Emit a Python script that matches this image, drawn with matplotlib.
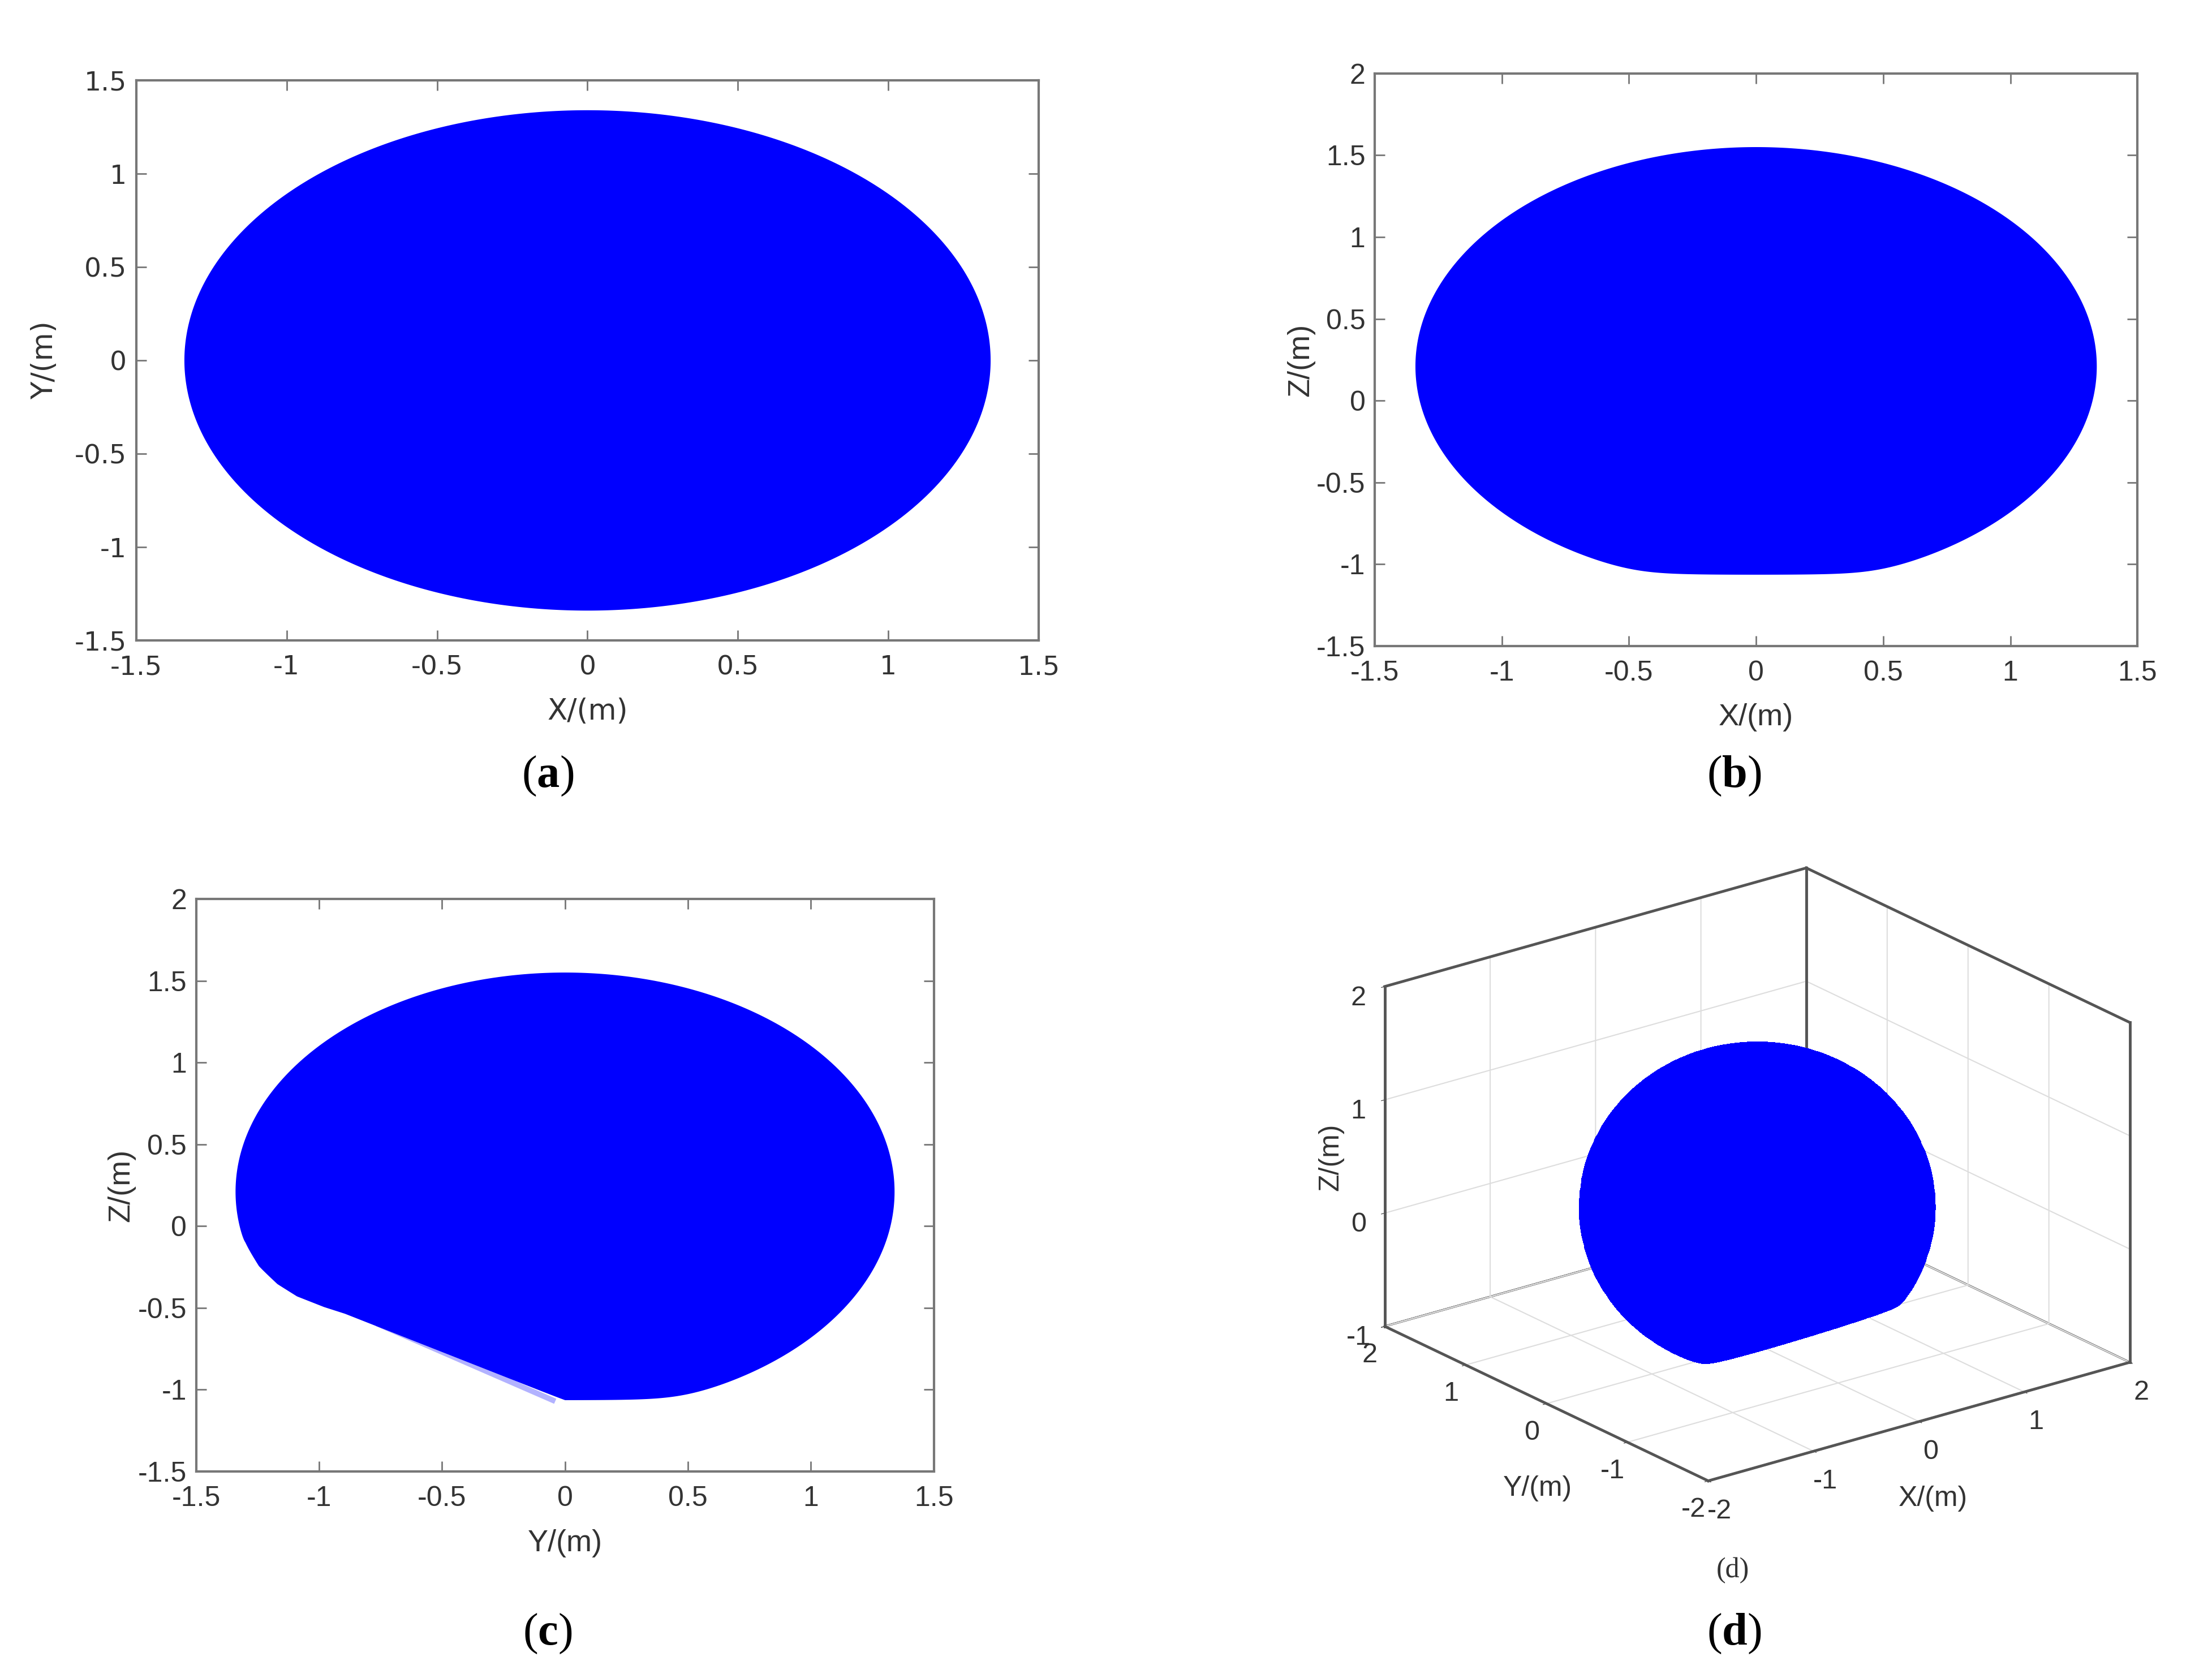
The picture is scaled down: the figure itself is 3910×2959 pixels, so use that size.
import numpy as np
import matplotlib.pyplot as plt

plt.rcParams['mathtext.fontset'] = 'custom'
plt.rcParams['mathtext.rm'] = 'Liberation Serif'
plt.rcParams['mathtext.bf'] = 'Liberation Serif:bold'

# workspace envelope (m)
radius = 1.34
z_center = 0.21
z_floor = -1.066
# lower-left cut seen in the Y-Z view
cut_y = [-1.50, -1.30, -1.245, -1.17, -1.09, -0.98, -0.895, 0.0, 1.50]
cut_z = [-0.12, -0.12, -0.25, -0.355, -0.43, -0.495, -0.536, -1.066, -1.066]
soft = 0.025  # rounding of the clipped corners

ticks_h = [-1.5, -1, -0.5, 0, 0.5, 1, 1.5]
ticks_z = [-1.5, -1, -0.5, 0, 0.5, 1, 1.5, 2]
ticks_3d_h = [-2, -1, 0, 1, 2]
ticks_3d_z = [-1, 0, 1, 2]

BLUE = '#0000ff'
TXT = '#333333'
EDGE = '#777777'

fig = plt.figure(figsize=(39.1, 29.59), dpi=100)


def clip_up(z, floor):
    # smooth max(z, floor)
    return floor + soft * np.logaddexp(0, (z - floor) / soft)


def style_2d(ax, xt, yt, xlabel, ylabel, fam, size, ylpad):
    ax.set_xticks(xt)
    ax.set_yticks(yt)
    ax.set_xticklabels([f'{t:g}' for t in xt], family=fam, fontsize=size, color=TXT)
    ax.set_yticklabels([f'{t:g}' for t in yt], family=fam, fontsize=size, color=TXT)
    ax.set_xlim(xt[0], xt[-1])
    ax.set_ylim(yt[0], yt[-1])
    ax.tick_params(direction='in', length=13, width=2, color=EDGE, top=True, right=True)
    ax.tick_params(axis='x', pad=18)
    ax.tick_params(axis='y', pad=12)
    for s in ax.spines.values():
        s.set_color(EDGE)
        s.set_linewidth(3)
    ax.set_xlabel(xlabel, family=fam, fontsize=size + 3, color=TXT, labelpad=22)
    ax.set_ylabel(ylabel, family=fam, fontsize=size + 3, color=TXT, labelpad=ylpad)


def caption(x, y, letter):
    fig.text(x, y, r'($\mathbf{%s}$)' % letter, family='Liberation Serif', fontsize=58,
             ha='center', va='center', color='black')


th = np.linspace(0, 2 * np.pi, 1441)
ch = radius * np.cos(th)
sh = z_center + radius * np.sin(th)

# (a) X-Y
ax_a = fig.add_axes([0.0616, 0.6174, 0.408, 0.3346])
ax_a.fill(radius * np.cos(th), radius * np.sin(th), color=BLUE, lw=0)
style_2d(ax_a, ticks_h, ticks_h, 'X/(m)', 'Y/(m)', 'DejaVu Sans', 34, 20)

# (b) X-Z
ax_b = fig.add_axes([0.6215, 0.6141, 0.3448, 0.342])
ax_b.fill(ch, clip_up(sh, z_floor), color=BLUE, lw=0)
style_2d(ax_b, ticks_h, ticks_z, 'X/(m)', 'Z/(m)', 'Liberation Sans', 36, 2)

# (c) Y-Z
ax_c = fig.add_axes([0.0887, 0.121, 0.3335, 0.342])
ax_c.fill(ch, clip_up(sh, np.interp(ch, cut_y, cut_z)), color=BLUE, lw=0)
ax_c.plot([cut_y[6] + 0.13, cut_y[7] - 0.04], [cut_z[6] - 0.06, cut_z[7] - 0.005],
          color=BLUE, lw=7, alpha=0.3, solid_capstyle='butt')
style_2d(ax_c, ticks_h, ticks_z, 'Y/(m)', 'Z/(m)', 'Liberation Sans', 36, 3)

# (d) 3-D view
ax_d = fig.add_axes([0.58, 0.0763, 0.42, 0.4326], projection='3d')
ax_d.computed_zorder = False
ax_d.set_proj_type('ortho')
ax_d.view_init(elev=21.5, azim=-127.5)
xl, yl, zl = (-2, 2), (-2, 2), (-1, 2)
ax_d.set_xlim(*xl)
ax_d.set_ylim(*yl)
ax_d.set_zlim(*zl)

# box outline (back panes + front floor edges)
box_edges = [
    ((xl[0], xl[1]), (yl[1], yl[1]), (zl[1], zl[1])),
    ((xl[1], xl[1]), (yl[0], yl[1]), (zl[1], zl[1])),
    ((xl[0], xl[0]), (yl[1], yl[1]), zl),
    ((xl[1], xl[1]), (yl[0], yl[0]), zl),
    ((xl[1], xl[1]), (yl[1], yl[1]), zl),
    ((xl[0], xl[0]), yl, (zl[0], zl[0])),
    (xl, (yl[0], yl[0]), (zl[0], zl[0])),
]
for ex, ey, ez in box_edges:
    ax_d.plot(ex, ey, ez, color='#555555', lw=3.5, zorder=1, clip_on=False)

u = np.linspace(0, 2 * np.pi, 181)
v = np.linspace(0, np.pi, 121)
X = radius * np.outer(np.cos(u), np.sin(v))
Y = radius * np.outer(np.sin(u), np.sin(v))
Z = z_center + radius * np.outer(np.ones_like(u), np.cos(v))
Z = clip_up(Z, np.interp(Y, cut_y, cut_z))
ax_d.plot_surface(X, Y, Z, color=BLUE, shade=False, linewidth=0.6, edgecolor=BLUE,
                  antialiased=False, zorder=2)
ax_d.set_box_aspect((4, 4, 2.75), zoom=1.12)
ax_d.set_xticks(ticks_3d_h, [f'{t:g}' for t in ticks_3d_h])
ax_d.set_yticks(ticks_3d_h, [f'{t:g}' for t in ticks_3d_h])
ax_d.set_zticks(ticks_3d_z, [f'{t:g}' for t in ticks_3d_z])
for axis in (ax_d.xaxis, ax_d.yaxis, ax_d.zaxis):
    axis.set_pane_color((1, 1, 1, 1))
    axis.pane.set_edgecolor('#555555')
    axis.pane.set_linewidth(2.5)
    axis.line.set_color('#555555')
    axis.line.set_linewidth(2.5)
    axis._axinfo['grid'].update(color='#dddddd', linewidth=1.5)
    axis._axinfo['tick'].update(inward_factor=0.1, outward_factor=0.0)
ax_d.tick_params(labelsize=35, colors=TXT, pad=9)
for lab in ax_d.get_xticklabels() + ax_d.get_yticklabels() + ax_d.get_zticklabels():
    lab.set_family('Liberation Sans')

fig.text(3417 / 3910, 1 - 2649 / 2959, 'X/(m)', family='Liberation Sans', fontsize=36,
         color=TXT, ha='center', va='center')
fig.text(2718 / 3910, 1 - 2631 / 2959, 'Y/(m)', family='Liberation Sans', fontsize=36,
         color=TXT, ha='center', va='center')
fig.text(2352 / 3910, 1 - 2045 / 2959, 'Z/(m)', family='Liberation Sans', fontsize=36,
         color=TXT, ha='center', va='center', rotation=90)
fig.text(3063 / 3910, 1 - 2776 / 2959, '(d)', family='Liberation Serif', fontsize=36,
         ha='center', va='center', color='#333333')

caption(968 / 3910, 1 - 1372 / 2959, 'a')
caption(3065 / 3910, 1 - 1372 / 2959, 'b')
caption(968 / 3910, 1 - 2888 / 2959, 'c')
caption(3065 / 3910, 1 - 2888 / 2959, 'd')

fig.savefig('out.png', dpi=100, facecolor='white')
